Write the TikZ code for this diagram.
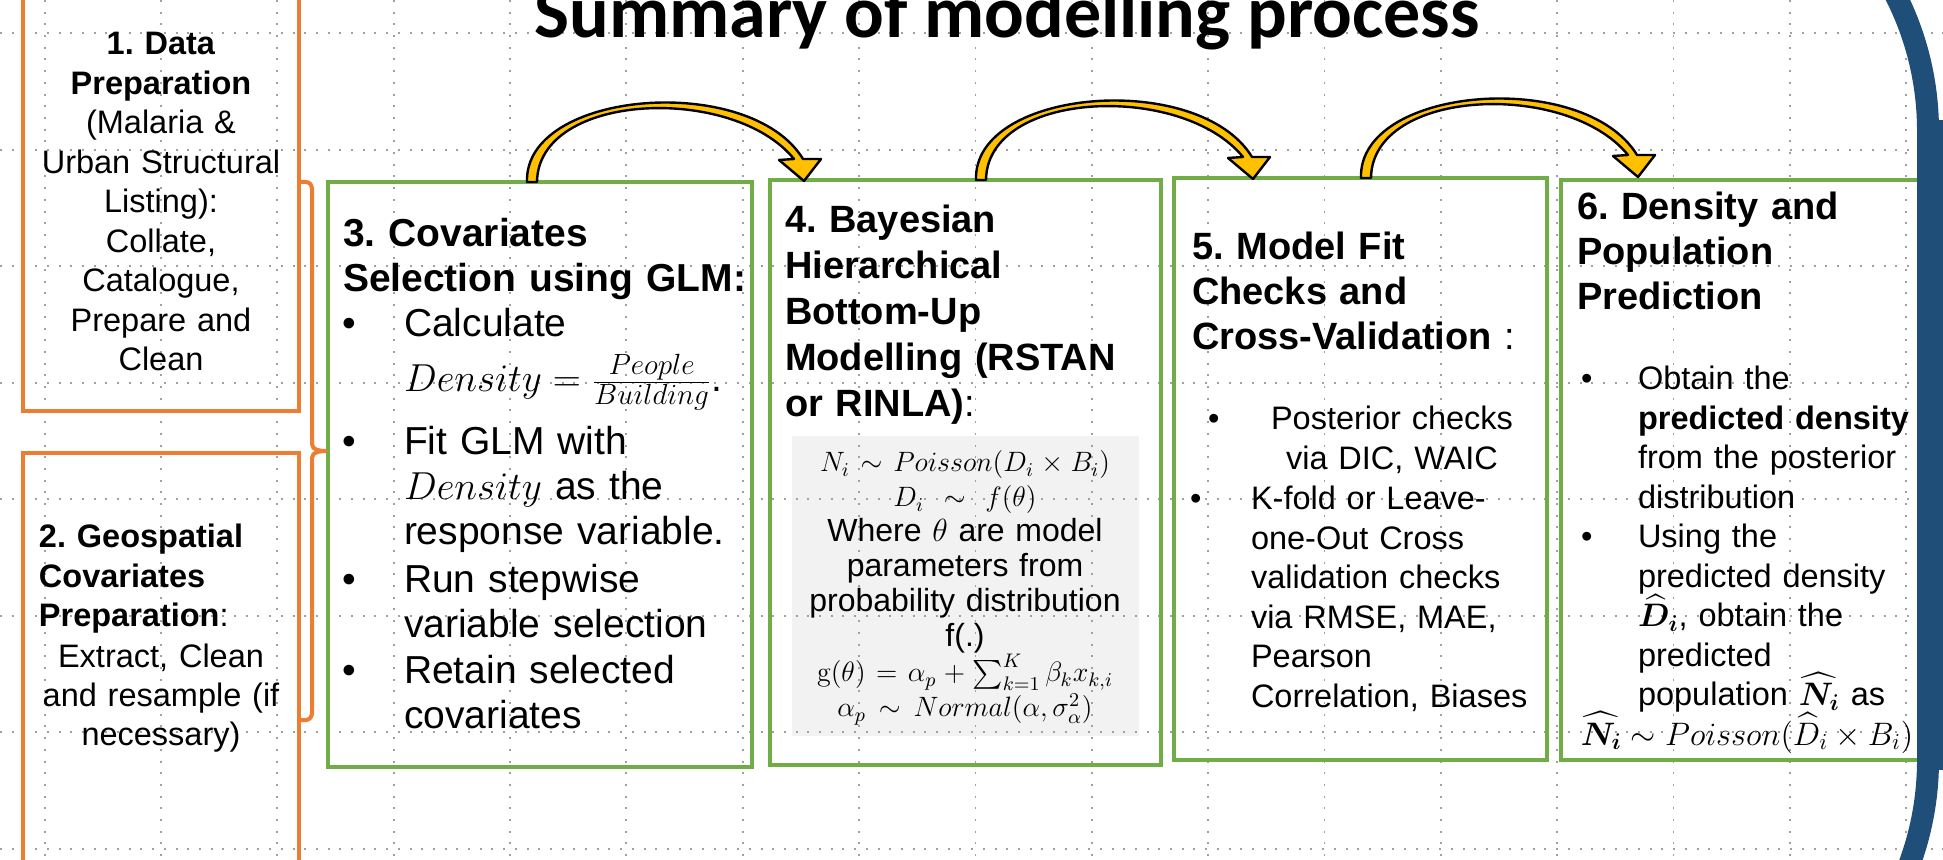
\RequirePackage{fix-cm}
\documentclass[tikz,border=0pt]{standalone}
\usepackage{amsmath}
\usepackage[no-math]{fontspec}
\setmainfont{Liberation Sans}
\newfontfamily\titlefont{Carlito}
\usetikzlibrary{fit,calc}
\definecolor{pgreen}{HTML}{70AD47}
\definecolor{porange}{HTML}{ED7D31}
\definecolor{pgold}{HTML}{FFC000}
\definecolor{pblue}{HTML}{1F4E79}
\definecolor{pgray}{HTML}{F2F2F2}
\definecolor{pgrid}{HTML}{A0A0A0}
\newcommand\fsA{\fontsize{16.25}{19.75}\selectfont\frenchspacing\lineskiplimit=-50pt\relax}
\newcommand\fsB{\fontsize{19.5}{22.5}\selectfont\frenchspacing\lineskiplimit=-50pt\relax}
\newcommand\fsH{\fontsize{19}{22.5}\selectfont\frenchspacing\lineskiplimit=-50pt\relax}
\newcommand\fsHb{\fontsize{19}{23}\selectfont\frenchspacing\lineskiplimit=-50pt\relax}
\newcommand\fsF{\fontsize{16}{17.5}\selectfont\frenchspacing\lineskiplimit=-50pt\relax}
\newcommand\fm[1]{{\fontsize{14}{17.5}\selectfont$#1$}}
\newcommand\denfrac[2]{\raisebox{1.25pt}{\fontsize{14.6}{14.6}\selectfont$\frac{\textstyle #1}{\textstyle #2}$}}
\begin{document}
\begin{tikzpicture}[x=0.5pt,y=-0.5pt,
  gridline/.style={pgrid, line width=0.9pt, dash pattern=on 1pt off 4.85pt},
  gbox/.style={draw=pgreen, line width=2pt, inner sep=0pt},
  obox/.style={draw=porange, line width=2pt, inner sep=0pt},
  tb/.style={inner sep=0pt, outer sep=0pt},
  pics/carrow/.style={code={
    \filldraw[fill=pgold, draw=black, line width=1.2pt, line join=round]
      (-3,0) .. controls (-6,-92) and (220,-110) .. (273,-23)
      -- (291,-23) -- (274,-1) -- (249,-22) -- (264,-23)
      .. controls (203,-98) and (8,-90) .. (7,0) -- cycle;
  }}
]
\useasboundingbox (0,0) rectangle (1943,860);
\clip (0,0) rectangle (1943,860);
\fill[white] (0,0) rectangle (1943,860);

% grey formula panel
\node[fill=pgray, inner sep=0pt, fit={(792,436)(1139,736)}] (fb) {};

% slide grid
\foreach \i in {0,...,16} \draw[gridline] ({44.6+116.35*\i},0) -- ({44.6+116.35*\i},860);
\foreach \j in {0,...,7} \draw[gridline] (0,{33.3+116.5*\j}) -- (1943,{33.3+116.5*\j});

% boxes
\node[obox, fit={(23,-30)(299,411)}] (b1) {};
\node[obox, fit={(23,453)(299,900)}] (b2) {};
\node[gbox, fit={(328,182)(752,767)}] (b3) {};
\node[gbox, fit={(770,180)(1161,765)}] (b4) {};
\node[gbox, fit={(1174,178)(1547,760)}] (b5) {};
\node[gbox, fit={(1561,180)(1931,760)}] (b6) {};

% brace joining boxes 1 and 2 to box 3
\coordinate (brT) at (299,182);
\coordinate (brB) at (299,720);
\coordinate (brM) at (327,451);
\draw[porange, line width=2pt] (brT) -- (306,182) to[out=0,in=90] (312,189)
  -- (312,444) to[out=-90,in=180] (brM) to[out=180,in=90] (312,458)
  -- (312,713) to[out=-90,in=0] (306,720) -- (brB);

% curved arrows
\pic at ($(b3.north west)+(204,2)$) {carrow};
\pic at ($(b4.north west)+(211,2)$) {carrow};
\pic at ($(b5.north west)+(192,2)$) {carrow};

% title
\node[tb, anchor=base, font=\titlefont\bfseries\fontsize{37}{40}\selectfont] (title) at (1007,38) {Summary of modelling process};

% box 1
\node[tb, text width=135pt, align=center, anchor=base, font=\fsA] (t1) at (161,55)
  {\textbf{1. Data}\\ \textbf{Preparation}\\ (Malaria \&\\ Urban Structural\\ Listing):\\ Collate,\\ Catalogue,\\ Prepare and\\ Clean};

% box 2
\node[tb, text width=130pt, align=left, anchor=base west, font=\fsA] (t2a) at (39,548)
  {\textbf{2. Geospatial}\\ \textbf{Covariates}\\ \textbf{Preparation}:};
\node[tb, text width=135pt, align=center, anchor=base, font=\fsA] (t2b) at (161,667)
  {Extract, Clean\\ and resample (if\\ necessary)};

% box 3
\node[tb, text width=205pt, align=left, anchor=base west, font=\fsB] (t3h) at (343,247)
  {\textbf{3. Covariates}\\ \textbf{Selection using GLM:}};
\node[tb, anchor=base west, font=\fsB] (t3b1) at (342,337) {\textbullet};
\node[tb, anchor=base west, font=\fsB] (t3b2) at (342,455) {\textbullet};
\node[tb, anchor=base west, font=\fsB] (t3b3) at (342,593) {\textbullet};
\node[tb, anchor=base west, font=\fsB] (t3b4) at (342,683) {\textbullet};
\node[tb, text width=172pt, align=left, anchor=base west, font=\fsB] (t3i1) at (404,337) {Calculate};
\node[tb, text width=172pt, align=left, anchor=base west, font=\fsB] (t3i1b) at (404,392) {$Density=\denfrac{People}{Building}$.};
\node[tb, text width=172pt, align=left, anchor=base west, font=\fsB] (t3i2) at (404,455)
  {Fit GLM with\\ $Density$ as the\\ response variable.};
\node[tb, text width=172pt, align=left, anchor=base west, font=\fsB] (t3i3) at (404,593)
  {Run stepwise\\ variable selection};
\node[tb, text width=172pt, align=left, anchor=base west, font=\fsB] (t3i4) at (404,683)
  {Retain selected\\ covariates};

% box 4
\node[tb, text width=185pt, align=left, anchor=base west, font=\fsHb] (t4h) at (785,233)
  {\textbf{4. Bayesian}\\ \textbf{Hierarchical}\\ \textbf{Bottom-Up}\\ \textbf{Modelling (RSTAN}\\ \textbf{or RINLA)}:};
\node[tb, text width=170pt, align=center, anchor=base, font=\fsF] (t4f) at (965,472)
  {\fm{N_i\sim Poisson(D_i\times B_i)}\\ \fm{D_i\sim f(\theta)}\\ Where $\theta$ are model\\ parameters from\\ probability distribution\\ f(.)\\ \fm{\mathrm{g}(\theta)=\alpha_p+\sum_{k=1}^{K}\beta_k x_{k,i}}\\ \fm{\alpha_p\sim Normal(\alpha,\sigma_\alpha^2)}};

% box 5
\node[tb, text width=180pt, align=left, anchor=base west, font=\fsH] (t5h) at (1192,260)
  {\textbf{5. Model Fit}\\ \textbf{Checks and}\\ \textbf{Cross-Validation} :};
\node[tb, anchor=base west, font=\fsA] (t5b1) at (1208,430) {\textbullet};
\node[tb, anchor=base west, font=\fsA] (t5b2) at (1190,510) {\textbullet};
\node[tb, text width=130pt, align=center, anchor=base, font=\fsA] (t5a) at (1392,430)
  {Posterior checks\\ via DIC, WAIC};
\node[tb, text width=145pt, align=left, anchor=base west, font=\fsA] (t5c) at (1251,510)
  {K-fold or Leave-\\ one-Out Cross\\ validation checks\\ via RMSE, MAE,\\ Pearson\\ Correlation, Biases};

% box 6
\node[tb, text width=180pt, align=left, anchor=base west, font=\fsH] (t6h) at (1577,220)
  {\textbf{6. Density and}\\ \textbf{Population}\\ \textbf{Prediction}};
\node[tb, anchor=base west, font=\fsA] (t6b1) at (1581,390) {\textbullet};
\node[tb, anchor=base west, font=\fsA] (t6b2) at (1581,548) {\textbullet};
\node[tb, text width=140pt, align=left, anchor=base west, font=\fsA] (t6a) at (1638,390)
  {Obtain the\\ \textbf{predicted density}\\ from the posterior\\ distribution};
\node[tb, text width=140pt, align=left, anchor=base west, font=\fsA] (t6c) at (1638,548)
  {Using the\\ predicted density\\ $\boldsymbol{\widehat{D}_i}$, obtain the\\ predicted\\ population $\boldsymbol{\widehat{N}_i}$ as};
\node[tb, anchor=base, font=\fsA] (t6d) at (1747,745)
  {$\boldsymbol{\widehat{N}_i}\sim Poisson(\widehat{D}_i\times B_i)$};

% large rounded frame (right side)
\draw[pblue, line width=11pt]
  (1400,-169) -- (1628,-169) .. controls (1793.7,-169) and (1928,-34.7) .. (1928,131)
  -- (1928,760) .. controls (1928,925.7) and (1793.7,1060) .. (1628,1060) -- (1400,1060);
\fill[pblue] (1926,120) rectangle (1943,770);
\end{tikzpicture}
\end{document}
